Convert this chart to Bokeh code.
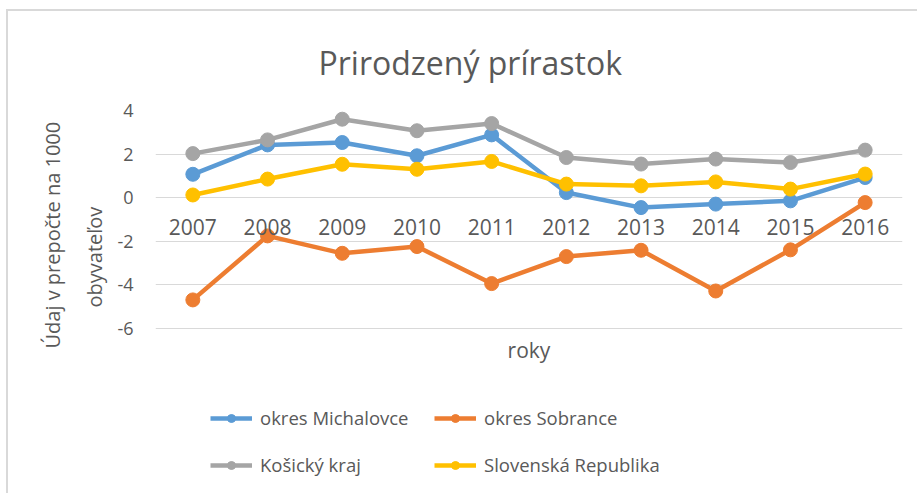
from bokeh.plotting import figure
from bokeh.models import Range1d, Legend, LegendItem, Label, Title, FixedTicker
from bokeh.core.properties import value
from bokeh.embed import file_html
from bokeh.resources import INLINE

years = [2007, 2008, 2009, 2010, 2011, 2012, 2013, 2014, 2015, 2016]
year_labels = [str(y) for y in years]
michalovce = [1.07, 2.42, 2.53, 1.92, 2.88, 0.23, -0.46, -0.30, -0.15, 0.92]
sobrance = [-4.70, -1.76, -2.56, -2.25, -3.95, -2.71, -2.42, -4.29, -2.40, -0.23]
kosicky = [2.02, 2.65, 3.60, 3.07, 3.40, 1.84, 1.54, 1.77, 1.61, 2.18]
slovensko = [0.12, 0.85, 1.53, 1.30, 1.66, 0.62, 0.54, 0.72, 0.39, 1.08]
y_ticks = [-6, -4, -2, 0, 2, 4]

series = [
    ("okres Michalovce", michalovce, "#5B9BD5"),
    ("okres Sobrance", sobrance, "#ED7D31"),
    ("Košický kraj", kosicky, "#A5A5A5"),
    ("Slovenská Republika", slovensko, "#FFC000"),
]

FONT = "Open Sans"
TXT = "#595959"

p = figure(width=911, height=484, output_backend="svg", toolbar_location=None,
           x_range=Range1d(2006.5, 2016.5), y_range=Range1d(-13.5, 4),
           min_border_left=147, min_border_right=17, min_border_top=99,
           min_border_bottom=4)
p.styles = {"margin-left": "6px", "margin-top": "9px",
            "border-top": "2px solid #d9d9d9", "border-left": "2px solid #d9d9d9"}
p.outline_line_color = None
p.xgrid.visible = False
p.xaxis.visible = False
p.ygrid.grid_line_color = "#d9d9d9"

ya = p.yaxis[0]
ya.ticker = FixedTicker(ticks=y_ticks)
ya.major_label_overrides = {t: str(t) for t in y_ticks}
ya.axis_line_color = None
ya.major_tick_line_color = None
ya.minor_tick_line_color = None
ya.major_tick_out = 0
ya.major_tick_in = 0
ya.major_label_standoff = 22
ya.major_label_text_font = FONT
ya.major_label_text_font_size = "18px"
ya.major_label_text_color = TXT

p.title = Title(text="Prirodzený prírastok", align="left", offset=163, standoff=54,
                text_font=FONT, text_font_size="32px", text_font_style="normal",
                text_color=TXT)

p.add_layout(Title(text="obyvateľov", align="left", offset=184, standoff=14,
                   text_font=FONT, text_font_size="20px", text_font_style="normal",
                   text_color=TXT), "left")
p.add_layout(Title(text="Údaj v prepočte na 1000", align="left", offset=143, standoff=12,
                   text_font=FONT, text_font_size="20px", text_font_style="normal",
                   text_color=TXT), "left")

renderers = {}
for name, vals, col in series:
    r1 = p.line(years, vals, line_color=col, line_width=4.5)
    r2 = p.scatter(years, vals, size=14, fill_color=col, line_color=col)
    renderers[name] = [r1, r2]

# legend grid is filled column by column: put row-1 entries first in each column
legend_order = ["okres Michalovce", "Košický kraj", "okres Sobrance", "Slovenská Republika"]
items = [LegendItem(label=n, renderers=renderers[n]) for n in legend_order]

p.text(x=years, y=[0] * len(years), text=year_labels, y_offset=29,
       text_align="center", text_baseline="alphabetic",
       text_font=value(FONT), text_font_size="21px", text_color=TXT)

p.add_layout(Label(x=2011.5, y=-7.02, text="roky",
                   text_align="center", text_baseline="middle",
                   text_font=FONT, text_font_size="21px", text_color=TXT))

legend = Legend(items=items, ncols=2, location=(55, 14),
                glyph_width=42, glyph_height=20, label_standoff=8, spacing=22,
                label_width=152,
                padding=0, margin=0, border_line_color=None, background_fill_color=None,
                label_text_font=FONT, label_text_font_size="18.5px", label_text_color=TXT)
p.add_layout(legend, "center")

open("out.html", "w").write(file_html(p, INLINE))
